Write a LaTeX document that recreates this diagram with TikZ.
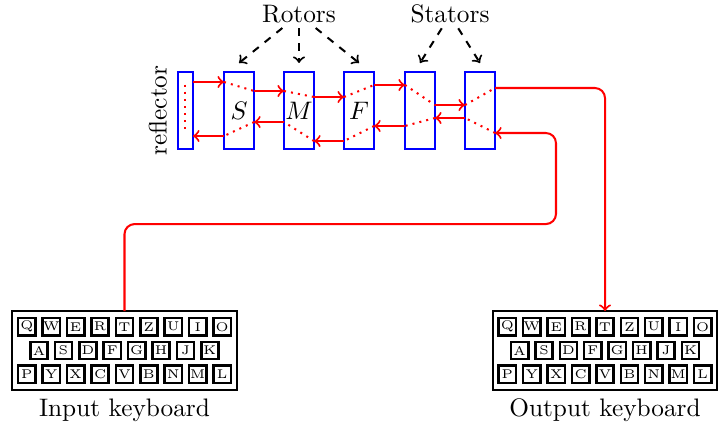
\documentclass[tikz,border=0pt]{standalone}
\usetikzlibrary{positioning}
\begin{document}
\begin{tikzpicture}[inner sep=0pt,outer sep=0pt,thick,
rotorbox/.style={draw=blue,rectangle,minimum width=0.417cm,minimum height=1.07cm,thick},
wire/.style={red,thick},
wiring/.style={red,thick,dotted},
keycap/.style={draw,rectangle,minimum size=0.24cm,line width=1pt,font=\tiny},
keyboard/.style={draw,rectangle,minimum width=3.12cm,minimum height=1.097cm,thick}]
\useasboundingbox (0,0) rectangle (9.986,5.931);
\draw (2.576,4.396) node[rotorbox,minimum width=0.208cm] (refl) {};
\draw (3.320,4.396) node[rotorbox] (S) {$S$};
\draw (4.153,4.396) node[rotorbox] (M) {$M$};
\draw (4.987,4.396) node[rotorbox] (F) {$F$};
\draw (5.833,4.396) node[rotorbox] (St1) {};
\draw (6.667,4.396) node[rotorbox] (St2) {};
\node[rotate=90,anchor=south] (refllabel) at ([xshift=-4.4pt]refl.west) {reflector};

\node[inner sep=2pt] (Rotors) at (4.153,5.736) {Rotors};
\node[inner sep=2pt] (Stators) at (6.250,5.736) {Stators};
\draw[->,dashed] (Rotors.220) -- ([yshift=0.125cm]S.north);
\draw[->,dashed] (Rotors.south) -- ([yshift=0.125cm]M.north);
\draw[->,dashed] (Rotors.320) -- ([yshift=0.125cm]F.north);
\draw[->,dashed] (Stators.240) -- ([yshift=0.125cm]St1.north);
\draw[->,dashed] (Stators.300) -- ([yshift=0.125cm]St2.north);

% forward path
\foreach \a/\b/\h in {refl/S/0.396,S/M/0.271,M/F/0.1875,F/St1/0.354,St1/St2/0.076}
  \draw[wire,->] ([yshift=\h cm]\a.east) -- ([yshift=\h cm]\b.west);
\foreach \n/\p/\q in {S/0.396/0.271,M/0.271/0.1875,F/0.1875/0.354,St1/0.354/0.076,St2/0.076/0.3125}
  \draw[wiring] ([yshift=\p cm]\n.west) -- ([yshift=\q cm]\n.east);
\draw[wiring] ([yshift=0.36cm]refl.center) -- ([yshift=-0.32cm]refl.center);
% return path
\foreach \a/\b/\h in {St2/St1/-0.104,St1/F/-0.215,F/M/-0.424,M/S/-0.16,S/refl/-0.354}
  \draw[wire,->] ([yshift=\h cm]\a.west) -- ([yshift=\h cm]\b.east);
\foreach \n/\p/\q in {St2/-0.3125/-0.104,St1/-0.104/-0.215,F/-0.215/-0.424,M/-0.424/-0.16,S/-0.16/-0.354}
  \draw[wiring] ([yshift=\p cm]\n.east) -- ([yshift=\q cm]\n.west);

% keyboards
\node[keyboard] (inkb) at (1.729,1.0625) {};
\node[keyboard] (outkb) at (8.403,1.0625) {};
\node[below=3.5pt of inkb] (inlabel) {Input keyboard};
\node[below=3.5pt of outkb] (outlabel) {Output keyboard};
\foreach \kb in {inkb,outkb} {
  \foreach \k [count=\i,evaluate=\i as \dx using (\i-5)*0.339] in {Q,W,E,R,T,Z,U,I,O}
    \node[keycap] (\kb\k) at ([xshift=\dx cm,yshift=0.33cm]\kb.center) {\k};
  \foreach \k [count=\i,evaluate=\i as \dx using (\i-4.5)*0.339] in {A,S,D,F,G,H,J,K}
    \node[keycap] (\kb\k) at ([xshift=\dx cm]\kb.center) {\k};
  \foreach \k [count=\i,evaluate=\i as \dx using (\i-5)*0.339] in {P,Y,X,C,V,B,N,M,L}
    \node[keycap] (\kb\k) at ([xshift=\dx cm,yshift=-0.33cm]\kb.center) {\k};
}

\coordinate (bend) at (7.722,2.819);
\draw[wire,->,rounded corners] ([yshift=0.3125cm]St2.east) -| (outkb.north);
\draw[wire,->,rounded corners] (inkb.north) |- (bend) |- ([yshift=-0.3125cm]St2.east);
\end{tikzpicture}
\end{document}
